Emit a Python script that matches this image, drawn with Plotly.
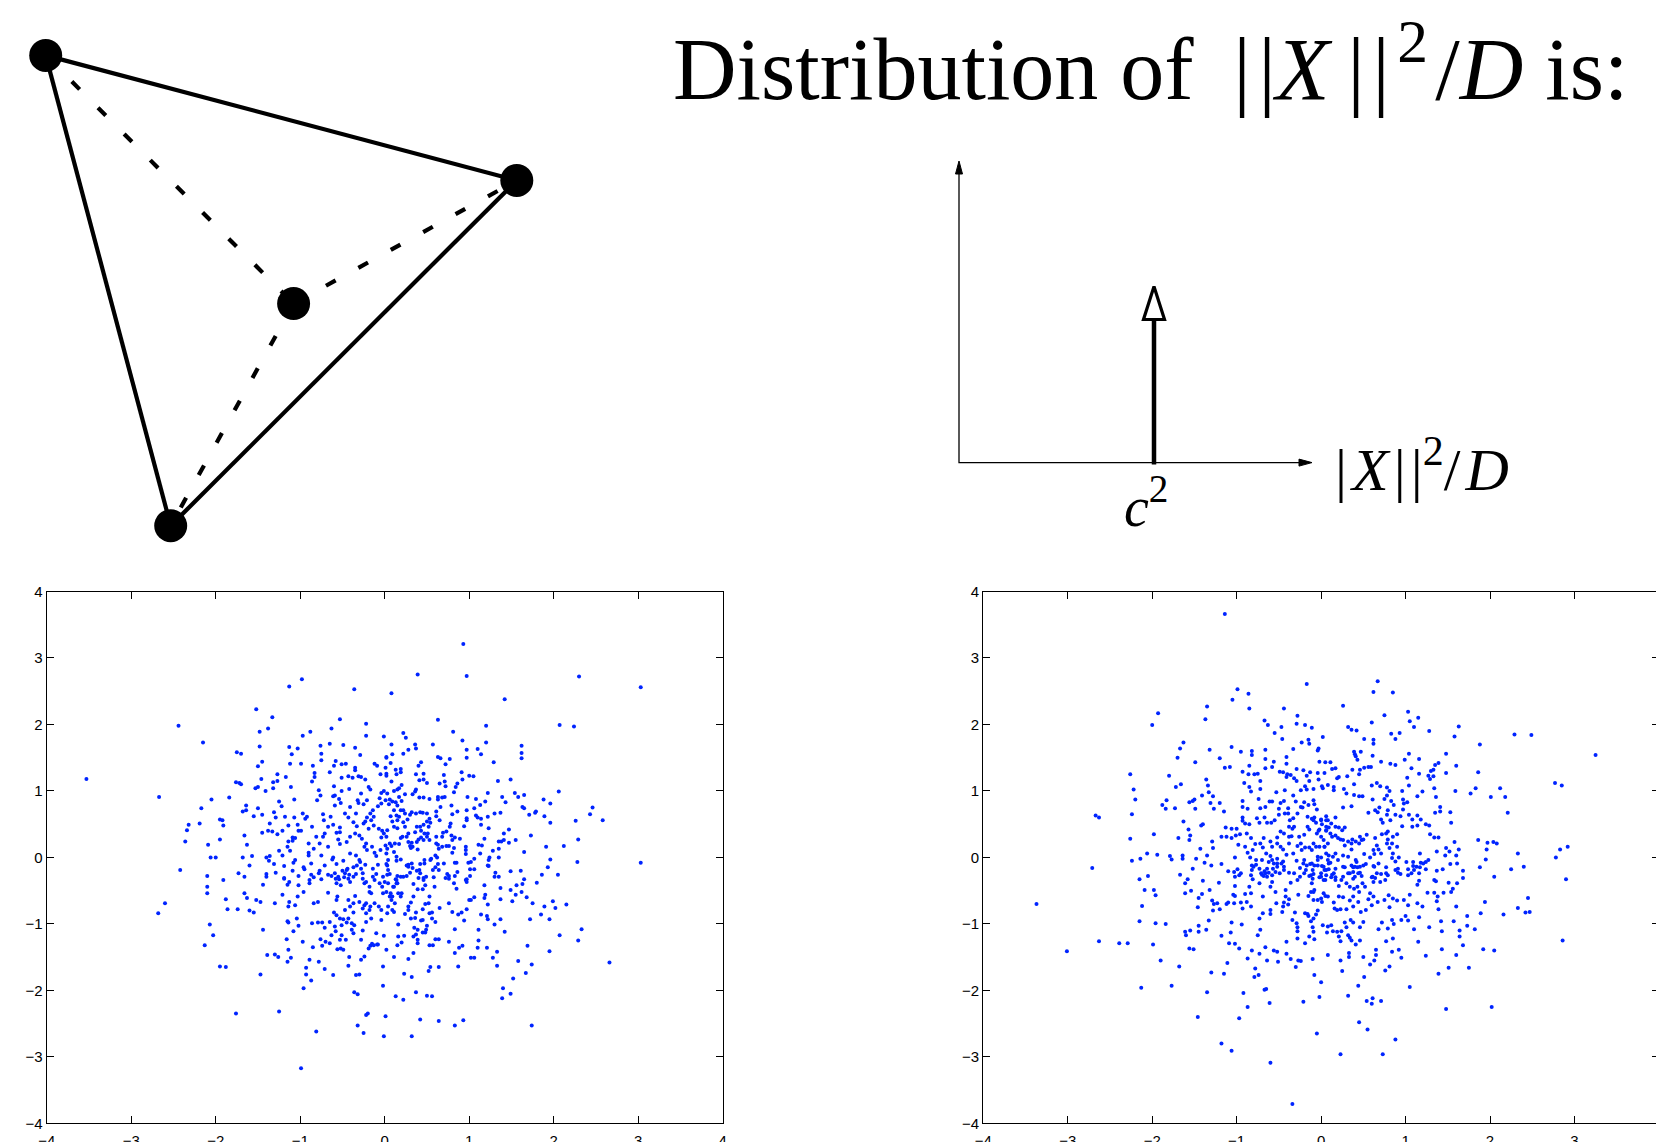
import plotly.graph_objects as go

W, H = 1656, 1142

# ---------------- scatter data ----------------
left_nw = [(-3.53,1.18),(-2.67,0.91),(-2.44,1.98),(-2.15,1.73),(-2.17,0.74),(-2.19,0.51),(-2.32,0.49),(-2.34,0.41),(-2.36,0.24),(-2.42,-0.19),(-2.10,-0.28),(-2.09,0.19),(-2.06,0.0),(-2.00,0.0),(-2.05,0.87),(-1.84,0.90),(-1.95,0.57),(-1.92,0.56),(-1.91,0.48),(-1.95,0.27),(-1.75,1.58),(-1.70,1.56),(-1.76,1.13),(-1.72,1.12),(-1.70,1.10),(-1.68,0.69),(-1.64,0.71),(-1.64,0.78),(-1.66,0.33),(-1.63,0.19),(-1.73,-0.24),(-1.66,-0.29),(-1.68,0.0),(-1.57,0.02),(-1.60,-0.12),(-1.52,2.23),(-1.33,2.11),(-1.38,1.94),(-1.48,1.89),(-1.48,1.67),(-1.45,1.44),(-1.50,1.37),(-1.46,1.18),(-1.50,1.06),(-1.53,1.04),(-1.41,1.00),(-1.32,1.13),(-1.27,1.15),(-1.27,1.25),(-1.32,1.04),(-1.55,0.62),(-1.50,0.74),(-1.45,0.64),(-1.36,0.51),(-1.38,0.40),(-1.33,0.39),(-1.45,0.37),(-1.31,0.68),(-1.29,0.60),(-1.22,0.77),(-1.25,0.84),(-1.21,0.40),(-1.27,0.35),(-1.17,1.21),(-1.13,2.57),(-0.98,2.68),(-0.88,1.89),(-0.97,1.83),(-1.13,1.66),(-1.03,1.64),(-1.10,1.55),(-1.12,1.41),(-0.99,1.41),(-1.11,1.06),(-1.07,0.87),(-0.85,1.38),(-0.83,1.27),(-0.83,1.21),(-0.86,1.14),(-0.78,1.01),(-0.80,0.86),(-0.76,0.93),(-0.97,0.66),(-0.94,0.58),(-0.92,0.61),(-0.86,0.46),(-1.02,0.40),(-0.99,0.40),(-1.09,0.30),(-1.06,0.29),(-1.09,0.25),(-1.14,0.24),(-1.12,0.10),(-1.15,0.16),(-1.40,0.0),(-1.36,0.02),(-1.37,-0.05),(-1.31,-0.10),(-1.19,-0.13),(-1.09,-0.20),(-1.40,-0.25),(-1.40,-0.29),(-1.19,-0.31),(-1.02,-0.28),(-1.29,-0.23),(-0.77,0.21),(-0.90,0.21),(-0.90,0.07),(-0.90,0.03),(-0.96,-0.15),(-0.95,-0.18),(-0.87,-0.26),(-0.84,-0.30),(-0.78,-0.24),(-0.76,1.68),(-0.65,1.71),(-0.53,2.08),(-0.63,1.94),(-0.49,1.69),(-0.58,1.45),(-0.51,1.40),(-0.46,1.41),(-0.75,1.56),(-0.75,1.46),(-0.65,1.28),(-0.60,1.38),(-0.60,1.07),(-0.59,0.93),(-0.61,0.92),(-0.59,0.78),(-0.52,0.82),(-0.54,0.88),(-0.42,1.03),(-0.43,1.22),(-0.38,1.20),(-0.35,1.35),(-0.35,1.31),(-0.31,1.22),(-0.36,2.53),(-0.35,1.65),(-0.29,1.54),(-0.22,1.83),(-0.22,2.01),(-0.28,1.21),(-0.23,1.17),(-0.19,1.06),(-0.17,1.02),(-0.12,1.41),(-0.09,1.38),(-0.05,1.25),(-0.01,1.82),(0.02,1.51),(0.01,1.35),(0.02,1.26),(0.08,2.47),(0.08,1.70),(0.07,1.42),(-0.04,0.97),(-0.01,1.00),(0.01,0.86),(0.03,0.96),(-0.06,0.89),(-0.04,0.81),(-0.08,0.77),(-0.28,0.96),(-0.32,0.86),(-0.31,0.82),(-0.25,0.80),(-0.21,0.86),(-0.17,0.66),(-0.14,0.71),(-0.16,0.56),(-0.13,0.61),(-0.21,0.60),(-0.23,0.54),(-0.25,0.51),(-0.13,0.48),(-0.19,0.43),(-0.07,0.43),(-0.03,0.40),(-0.01,0.36),(-0.04,0.30),(-0.51,1.20),(-0.51,1.00),(-0.47,0.66),(-0.43,0.60),(-0.41,0.76),(-0.34,0.66),(-0.37,0.53),(-0.33,0.47),(-0.61,0.49),(-0.67,0.46),(-0.64,0.61),(-0.72,0.56),(-0.73,0.65),(-0.71,0.36),(-0.57,0.37),(-0.53,0.45),(-0.53,0.38),(-0.55,0.27),(-0.53,0.20),(-0.45,0.23),(-0.41,0.31),(-0.35,0.36),(-0.30,0.33),(-0.27,0.28),(-0.22,0.21),(-0.24,0.16),(-0.21,0.11),(-0.15,0.16),(-0.12,0.07),(-0.10,0.02),(-0.05,0.11),(0.02,0.06),(0.03,0.13),(0.08,0.17),(0.11,0.08),(0.14,0.01),(-0.61,0.0),(-0.62,-0.03),(-0.57,-0.10),(-0.49,-0.05),(-0.41,0.06),(-0.34,0.03),(-0.29,-0.07),(-0.23,-0.11),(-0.37,-0.15),(-0.44,-0.17),(-0.50,-0.20),(-0.55,-0.29),(-0.48,-0.30),(-0.42,-0.26),(-0.34,-0.25),(-0.26,-0.24),(-0.14,-0.17),(-0.10,-0.25),(-0.02,-0.29),(0.06,-0.25),(-0.77,-0.20),(-0.71,-0.12),(-0.67,-0.26),(-0.75,0.03),(-0.84,0.13),(-0.81,0.31),(-0.73,0.31),(-0.67,0.16),(-1.08,-0.08),(-1.06,-0.04),(-1.21,0.03),(-1.25,0.10),(-1.03,0.49),(-1.07,0.60),(-1.18,0.61),(-1.14,0.48)]

left_ne = [(0.93,3.21),(0.39,2.75),(0.97,2.73),(2.30,2.72),(3.03,2.56),(1.42,2.38),(0.63,2.07),(1.20,1.98),(2.07,1.99),(2.24,1.97),(0.22,1.87),(0.25,1.80),(0.81,1.89),(0.36,1.70),(0.37,1.64),(0.57,1.70),(0.92,1.76),(1.20,1.73),(0.97,1.62),(0.97,1.50),(1.10,1.63),(1.14,1.55),(1.62,1.68),(1.62,1.57),(1.62,1.49),(1.29,1.43),(0.63,1.51),(0.66,1.49),(0.77,1.48),(0.72,1.40),(0.43,1.43),(0.40,1.38),(0.09,1.55),(0.02,1.50),(0.22,1.56),(0.28,1.62),(0.13,1.32),(0.19,1.33),(0.14,1.25),(0.19,1.28),(0.02,1.23),(0.91,1.28),(0.92,1.17),(1.00,1.23),(1.05,1.22),(1.34,1.15),(1.49,1.17),(0.37,1.25),(0.46,1.26),(0.46,1.17),(0.41,1.16),(0.50,1.12),(0.70,1.24),(0.71,1.14),(0.72,1.07),(0.65,1.11),(0.86,1.11),(0.84,1.06),(0.08,1.14),(0.20,1.09),(0.11,1.00),(0.15,1.02),(0.17,1.04),(0.37,1.02),(0.36,0.99),(0.33,0.95),(0.24,0.95),(0.41,0.90),(0.46,0.90),(0.53,0.88),(0.63,0.91),(0.63,0.87),(0.68,0.90),(0.71,0.91),(0.82,0.98),(0.98,0.91),(1.08,0.88),(1.22,0.97),(1.39,0.91),(1.43,0.83),(1.54,0.97),(1.58,0.91),(1.65,0.94),(1.88,0.87),(1.96,0.81),(2.06,0.99),(1.63,0.76),(1.65,0.74),(1.71,0.64),(1.78,0.67),(1.79,0.69),(1.89,0.62),(1.96,0.52),(2.26,0.55),(2.29,0.27),(2.46,0.75),(2.43,0.65),(2.58,0.56),(2.12,0.17),(2.28,-0.07),(3.03,-0.08),(1.73,0.33),(1.65,0.08),(1.91,0.16),(1.96,-0.03),(1.93,-0.15),(1.86,-0.26),(2.05,-0.26),(1.61,-0.20),(1.65,-0.33),(1.49,-0.21),(1.55,0.26),(1.47,0.42),(1.41,0.36),(1.37,0.67),(1.30,0.66),(1.22,0.61),(1.19,0.84),(1.13,0.79),(1.14,0.58),(1.14,0.49),(1.23,0.44),(1.18,0.28),(1.08,0.63),(1.10,0.60),(1.06,0.74),(0.97,0.71),(0.97,0.59),(0.97,0.56),(0.94,0.47),(0.86,0.69),(0.80,0.65),(0.79,0.78),(1.28,0.10),(1.35,0.13),(1.35,0.24),(1.38,0.24),(1.41,0.26),(1.47,0.22),(1.35,0.0),(1.24,0.0),(1.23,-0.04),(1.23,-0.13),(1.13,0.06),(1.11,0.19),(1.15,0.18),(1.06,-0.02),(1.02,-0.07),(0.99,-0.08),(1.01,-0.18),(1.06,-0.18),(1.01,-0.28),(0.97,-0.33),(1.31,-0.23),(1.30,-0.29),(1.35,-0.29),(0.96,0.16),(0.96,0.11),(0.96,0.05),(0.83,-0.08),(0.85,-0.08),(0.80,0.07),(0.82,0.14),(0.73,0.17),(0.76,0.17),(0.80,0.26),(0.79,0.33),(0.83,0.30),(0.89,0.28),(0.73,0.39),(0.69,0.37),(0.68,0.31),(0.61,0.31),(0.77,0.46),(0.78,0.51),(0.68,0.16),(0.64,0.13),(0.63,0.19),(0.61,0.21),(0.53,0.26),(0.50,0.31),(0.46,0.26),(0.43,0.30),(0.40,0.27),(0.38,0.23),(0.39,0.12),(0.31,0.14),(0.30,0.17),(0.33,0.16),(0.32,0.22),(0.28,0.23),(0.19,0.29),(0.21,0.31),(0.17,0.20),(0.12,0.21),(0.06,0.21),(0.01,0.18),(0.14,-0.05),(0.19,-0.03),(0.04,-0.04),(0.02,-0.10),(0.04,-0.19),(0.15,-0.28),(0.13,-0.33),(0.26,-0.28),(0.30,-0.23),(0.28,-0.11),(0.32,-0.09),(0.33,-0.16),(0.38,-0.20),(0.42,-0.10),(0.47,-0.04),(0.47,-0.09),(0.54,-0.04),(0.55,-0.02),(0.60,0.03),(0.62,0.0),(0.63,-0.10),(0.60,-0.15),(0.64,-0.19),(0.70,-0.09),(0.74,-0.25),(0.76,-0.28),(0.72,-0.31),(0.58,-0.30),(0.40,-0.31),(0.46,-0.31),(0.42,0.68),(0.45,0.67),(0.50,0.66),(0.53,0.58),(0.61,0.62),(0.65,0.56),(0.66,0.76),(0.61,0.69),(0.54,0.52),(0.50,0.54),(0.52,0.46),(0.46,0.49),(0.42,0.46),(0.38,0.46),(0.36,0.38),(0.43,0.40),(0.47,0.36),(0.51,0.36),(0.22,0.71),(0.24,0.66),(0.17,0.61),(0.14,0.63),(0.15,0.56),(0.07,0.62),(0.09,0.54),(0.11,0.46),(0.15,0.44),(0.03,0.41),(0.02,0.31),(0.28,0.36),(0.26,0.31),(0.24,0.46),(0.22,0.53),(0.27,0.57),(0.30,0.64),(0.32,0.68),(0.19,0.71),(0.11,0.71),(0.09,0.84),(0.13,0.83),(0.15,0.78),(0.05,0.80),(0.06,0.87),(0.20,0.85),(0.17,0.91),(0.37,0.66)]

left_sw = [(-2.68,-0.84),(-2.60,-0.69),(-2.10,-0.54),(-2.10,-0.44),(-2.07,-1.01),(-2.03,-1.17),(-2.13,-1.32),(-1.91,-0.34),(-1.88,-0.63),(-1.86,-0.78),(-1.74,-0.78),(-1.66,-0.54),(-1.63,-0.61),(-1.60,-0.80),(-1.55,-0.83),(-1.52,-0.64),(-1.47,-0.67),(-1.44,-0.41),(-1.95,-1.64),(-1.88,-1.65),(-1.76,-2.35),(-1.47,-1.76),(-1.44,-1.09),(-1.39,-1.47),(-1.30,-0.69),(-1.30,-1.46),(-1.26,-1.50),(-1.25,-2.32),(-1.21,-0.56),(-1.19,-0.32),(-1.15,-0.41),(-1.13,-0.67),(-1.14,-0.74),(-1.15,-0.96),(-1.14,-0.98),(-1.16,-1.23),(-1.14,-1.39),(-1.15,-1.57),(-1.11,-1.51),(-1.08,-1.11),(-1.06,-0.72),(-1.04,-0.92),(-1.03,-0.59),(-1.02,-0.42),(-1.02,-1.03),(-0.99,-3.17),(-0.97,-1.27),(-0.96,-0.52),(-0.96,-1.97),(-0.93,-1.66),(-0.93,-1.76),(-0.89,-1.54),(-0.87,-1.85),(-0.86,-0.99),(-0.85,-1.35),(-0.84,-0.69),(-0.81,-2.62),(-0.79,-0.98),(-0.79,-0.67),(-0.78,-1.57),(-0.76,-1.23),(-0.74,-1.33),(-0.74,-0.98),(-0.71,-1.68),(-0.71,-1.06),(-0.70,-1.27),(-0.67,-0.53),(-0.65,-1.29),(-0.65,-0.97),(-0.63,-1.17),(-0.61,-1.77),(-0.60,-0.83),(-0.58,-1.11),(-0.57,-0.64),(-0.56,-1.38),(-0.56,-0.59),(-0.53,-1.24),(-0.52,-1.37),(-0.51,-1.02),(-0.51,-1.17),(-0.49,-1.39),(-0.49,-0.93),(-0.47,-0.79),(-0.46,-1.24),(-0.45,-0.98),(-0.43,-0.92),(-0.43,-1.63),(-0.42,-1.50),(-0.39,-1.09),(-0.37,-0.83),(-0.37,-1.14),(-0.36,-2.03),(-0.32,-2.06),(-0.35,-0.58),(-0.34,-1.77),(-0.30,-1.76),(-0.32,-2.53),(-0.28,-1.54),(-0.28,-1.24),(-0.26,-1.10),(-0.25,-2.64),(-0.24,-1.49),(-0.24,-0.72),(-0.22,-0.84),(-0.22,-2.37),(-0.20,-2.35),(-0.19,-1.37),(-0.17,-1.33),(-0.17,-0.74),(-0.16,-0.92),(-0.15,-1.30),(-0.13,-1.32),(-0.10,-1.14),(-0.09,-1.31),(-0.08,-1.31),(-0.04,-0.94),(-0.02,-1.64),(-0.02,-1.93),(-0.01,-2.69),(-0.01,-1.18),(0.01,-2.39),(0.02,-1.39),(0.03,-0.84),(0.04,-0.74),(0.11,-1.50),(0.13,-2.09),(0.15,-1.32),(0.16,-1.19),(-1.13,-0.37),(-0.89,-0.34),(-0.89,-0.39),(-0.87,-0.09),(-0.75,-0.33),(-0.63,-0.28),(-0.59,-0.24),(-0.58,-0.32),(-0.57,-0.39),(-0.54,-0.33),(-0.52,-0.42),(-0.47,-0.24),(-0.45,-0.19),(-0.43,-0.32),(-0.41,-0.37),(-0.37,-0.29),(-0.33,-0.12),(-0.30,-0.04),(-0.28,-0.17),(-0.26,-0.32),(-0.24,-0.39),(-0.22,-0.37),(-0.18,-0.44),(-0.18,-0.52),(-0.16,-0.54),(-0.14,-0.29),(-0.12,-0.34),(-0.08,-0.11),(-0.06,-0.39),(-0.02,-0.54),(0.02,-0.52),(0.06,-0.59),(0.08,-0.64),(0.10,-0.44),(0.14,-0.39),(0.16,-0.54),(-0.37,-0.69),(-0.41,-0.74),(-0.43,-0.64),(-0.30,-0.67),(-0.26,-0.77),(-0.22,-0.69),(-0.18,-0.79),(-0.12,-0.69),(-0.07,-0.74),(0.09,-0.79),(0.12,-0.69),(-0.57,-0.87),(-0.53,-0.92),(-0.39,-0.99),(-0.36,-1.02),(-0.59,-1.04),(-0.22,-0.97)]

left_se = [(2.66,-1.58),(2.33,-1.08),(2.29,-1.25),(2.07,-1.17),(2.15,-0.71),(1.99,-0.66),(2.02,-0.76),(1.95,-0.93),(1.95,-1.41),(1.89,-0.74),(1.85,-0.86),(1.80,-0.38),(1.75,-0.69),(1.72,-0.93),(1.69,-1.33),(1.74,-1.61),(1.67,-1.74),(1.74,-2.53),(1.58,-1.56),(1.52,-1.82),(1.49,-2.05),(1.40,-1.97),(1.39,-2.12),(1.42,-1.12),(1.33,-1.42),(1.33,-1.63),(1.28,-1.51),(1.30,-1.01),(1.37,-0.93),(1.11,-1.25),(1.11,-1.09),(1.21,-1.36),(1.10,-1.36),(1.02,-1.51),(1.06,-1.51),(0.93,-2.45),(0.83,-2.53),(0.64,-2.46),(0.42,-2.44),(0.32,-2.69),(0.56,-2.09),(0.50,-2.08),(0.22,-2.14),(0.37,-2.03),(0.23,-1.75),(0.32,-1.80),(0.52,-1.71),(0.54,-1.65),(0.64,-1.65),(0.28,-1.53),(0.34,-1.44),(0.83,-1.44),(0.88,-1.36),(0.92,-1.33),(0.87,-1.64),(0.76,-1.27),(0.83,-1.08),(0.20,-1.28),(0.23,-1.18),(0.53,-1.32),(0.57,-1.32),(0.60,-1.23),(0.64,-1.23),(0.39,-1.29),(0.39,-1.24),(0.34,-1.19),(0.37,-1.16),(0.39,-1.09),(0.35,-1.06),(0.45,-1.13),(0.48,-1.13),(0.50,-1.03),(0.49,-1.09),(0.45,-0.94),(0.43,-0.95),(0.36,-0.91),(0.37,-0.83),(0.28,-0.74),(0.28,-0.79),(0.31,-0.92),(0.24,-0.85),(0.16,-1.01),(0.11,-0.82),(-0.04,-0.79),(0.53,-0.84),(0.56,-0.83),(0.60,-0.97),(0.56,-0.92),(0.65,-0.76),(0.76,-0.69),(0.80,-0.82),(0.87,-0.86),(0.91,-0.83),(0.94,-0.95),(0.97,-0.78),(1.00,-0.64),(1.02,-0.64),(1.06,-0.60),(1.14,-0.86),(1.21,-0.88),(1.22,-0.93),(1.18,-0.61),(1.19,-0.56),(1.22,-0.71),(1.18,-0.42),(1.22,-0.12),(1.37,-0.46),(1.37,-0.63),(1.49,-0.49),(1.51,-0.66),(1.55,-0.56),(1.56,-0.42),(1.62,-0.52),(1.63,-0.40),(1.68,-0.60),(0.96,-0.34),(0.97,-0.37),(0.83,-0.28),(0.86,-0.22),(0.82,-0.39),(0.85,-0.47),(0.76,-0.32),(0.57,-0.19),(0.59,-0.44),(0.48,-0.42),(0.49,-0.29),(0.46,-0.34),(0.42,-0.24),(0.41,-0.19),(0.39,-0.48),(0.45,-0.48),(0.53,-0.59),(0.52,-0.69),(0.48,-0.70),(0.45,-0.78),(0.34,-0.40),(0.34,-0.59),(0.31,-0.68),(0.28,-0.14),(0.26,-0.12),(0.22,-0.29),(0.19,-0.29),(0.15,-0.39),(0.14,-0.34),(0.11,-0.44),(0.19,-0.59),(0.20,-0.54),(0.09,-0.59),(0.07,-0.54),(-0.03,-0.44),(0.0,-0.37),(0.04,-0.39),(0.03,-0.26),(0.03,-0.12)]

right_nw = [(-1.14,3.66),(-0.99,2.53),(-0.86,2.46),(-0.85,2.24),(-1.05,2.37),(-1.35,2.27),(-1.37,2.08),(-1.93,2.17),(-2.00,1.99),(-0.17,2.61),(-0.44,2.24),(-0.28,2.13),(-0.67,2.06),(-0.63,1.99),(-0.47,1.96),(-0.55,1.87),(-0.46,1.78),(-0.29,2.01),(-0.19,1.99),(-0.11,1.95),(0.02,1.81),(-0.23,1.73),(-0.15,1.77),(-0.14,1.71),(-0.33,1.63),(-0.03,1.64),(-0.04,1.61),(-1.63,1.73),(-1.67,1.64),(-1.70,1.50),(-1.49,1.43),(-1.32,1.62),(-1.06,1.66),(-1.20,1.49),(-1.14,1.35),(-1.08,1.36),(-0.95,1.59),(-0.82,1.60),(-0.82,1.54),(-0.66,1.62),(-0.66,1.48),(-1.80,1.23),(-2.26,1.25),(-2.22,1.02),(-2.20,0.87),(-2.24,0.65),(-2.26,0.28),(-2.24,-0.05),(-2.14,-0.02),(-2.06,0.06),(-1.94,0.04),(-1.98,0.35),(-2.67,0.63),(-2.63,0.60),(-2.71,-0.16),(-1.88,0.79),(-1.84,0.73),(-1.83,0.86),(-1.72,1.06),(-1.66,1.10),(-1.73,0.74),(-1.69,0.29),(-1.63,0.54),(-1.57,0.42),(-1.56,0.26),(-1.55,0.33),(-1.56,0.83),(-1.52,0.85),(-1.50,0.87),(-1.49,0.73),(-1.79,0.02),(-1.77,-0.03),(-1.64,0.03),(-1.64,-0.02),(-1.67,-0.26),(-1.58,-0.33),(-1.52,-0.17),(-1.48,-0.02),(-1.43,0.13),(-1.42,0.48),(-1.40,0.50),(-1.41,0.93),(-1.36,1.17),(-1.34,1.08),(-1.33,0.98),(-1.31,0.82),(-1.28,0.92),(-1.27,0.73),(-1.29,0.24),(-1.28,0.14),(-1.30,-0.12),(-1.38,-0.08),(-1.35,0.03),(-1.20,0.82),(-1.15,0.69),(-1.18,0.31),(-1.12,0.31),(-1.13,0.45),(-1.18,-0.10),(-1.10,-0.21),(-1.06,0.29),(-1.01,0.33),(-1.06,0.43),(-1.00,0.43),(-0.98,0.19),(-1.02,0.0),(-0.99,-0.18),(-1.03,-0.22),(-0.95,-0.24),(-0.97,-0.27),(-0.93,0.76),(-0.93,0.85),(-0.91,1.12),(-0.85,1.06),(-0.93,1.29),(-0.85,1.38),(-0.86,1.25),(-0.83,0.99),(-0.93,0.60),(-0.93,0.55),(-0.90,0.51),(-0.87,0.73),(-0.85,0.50),(-0.88,0.36),(-0.96,0.35),(-0.90,0.16),(-0.87,0.07),(-0.84,0.0),(-0.82,-0.12),(-0.80,-0.14),(-0.82,-0.19),(-0.72,0.21),(-0.69,0.15),(-0.70,-0.04),(-0.67,-0.21),(-0.71,-0.24),(-0.70,-0.26),(-0.66,-0.24),(-0.79,1.25),(-0.75,1.26),(-0.72,1.15),(-0.72,1.03),(-0.74,0.88),(-0.72,0.74),(-0.76,0.59),(-0.73,0.52),(-0.66,1.34),(-0.58,1.36),(-0.49,1.29),(-0.45,1.28),(-0.41,1.21),(-0.40,1.25),(-0.36,1.24),(-0.32,1.19),(-0.29,1.15),(-0.17,1.23),(-0.14,1.15),(-0.03,1.17),(0.02,1.04),(-0.09,1.03),(-0.17,1.02),(-0.24,1.01),(-0.43,1.01),(-0.53,0.98),(-0.58,0.84),(-0.66,0.76),(-0.67,0.60),(-0.64,0.52),(-0.59,0.52),(-0.55,0.56),(-0.50,0.64),(-0.50,0.73),(-0.48,0.82),(-0.44,0.85),(-0.39,0.74),(-0.39,0.66),(-0.37,0.56),(-0.33,0.59),(-0.38,0.46),(-0.34,0.43),(-0.32,0.46),(-0.24,0.76),(-0.22,0.75),(-0.20,0.83),(-0.15,0.79),(-0.09,0.86),(-0.08,0.80),(-0.05,0.72),(-0.16,0.61),(-0.11,0.58),(-0.09,0.56),(-0.16,0.46),(-0.14,0.42),(0.0,0.56),(0.01,0.50),(0.06,0.56),(0.06,0.46),(0.06,0.41),(-0.02,0.42),(-0.05,0.36),(-0.20,0.34),(-0.26,0.31),(-0.35,0.32),(-0.38,0.31),(-0.44,0.36),(-0.48,0.39),(-0.52,0.30),(-0.52,0.21),(-0.48,0.16),(-0.45,0.12),(-0.38,0.21),(-0.33,0.06),(-0.28,0.17),(-0.24,0.21),(-0.23,0.11),(-0.19,0.15),(-0.14,0.15),(-0.11,0.11),(-0.09,0.21),(-0.06,0.16),(-0.04,0.01),(0.0,0.0),(-0.08,-0.12),(-0.13,-0.10),(-0.17,-0.12),(-0.21,-0.09),(-0.25,-0.16),(-0.29,-0.05),(-0.32,-0.24),(-0.38,-0.23),(-0.44,-0.19),(-0.45,-0.06),(-0.49,-0.24),(-0.54,-0.22),(-0.57,-0.17),(-0.58,-0.27),(-0.62,-0.07),(-0.64,-0.17),(-0.68,-0.28),(-0.73,-0.17),(-0.77,-0.11),(-0.77,-0.04),(-0.65,0.06),(-0.60,0.02),(-0.58,-0.04),(-0.52,-0.02),(-0.52,-0.09),(-0.41,0.04),(-0.68,0.29),(-0.60,0.24),(-0.58,0.16),(-0.78,0.20),(-0.83,0.29),(-0.81,0.11),(0.04,0.16),(0.06,0.06),(0.08,0.21),(0.09,-0.09),(0.04,-0.19),(0.0,-0.24),(-0.02,-0.30),(-0.12,-0.27),(0.08,-0.04),(-0.28,0.66),(-0.30,0.84),(-0.33,0.93),(-0.19,1.07),(-0.04,1.27),(-0.02,1.44),(-0.13,1.28),(-0.21,1.31),(-0.29,1.33),(-0.41,1.41),(-0.56,1.44),(-0.41,1.51),(-0.61,0.84),(-0.43,0.66)]

right_ne = [(0.67,2.65),(0.62,2.49),(0.85,2.48),(0.26,2.28),(0.75,2.14),(1.03,2.19),(1.15,2.10),(1.05,2.05),(1.10,1.96),(0.60,2.03),(1.63,1.97),(1.58,1.82),(1.28,1.90),(0.83,1.86),(0.93,1.87),(0.88,1.78),(0.62,1.77),(0.62,1.71),(0.51,1.78),(0.32,1.96),(0.36,1.92),(0.42,1.91),(1.88,1.70),(2.29,1.85),(2.49,1.84),(3.25,1.54),(1.48,1.56),(1.04,1.56),(0.99,1.47),(1.16,1.48),(0.71,1.44),(0.82,1.41),(0.88,1.39),(0.61,1.53),(0.47,1.59),(0.39,1.59),(0.40,1.55),(0.41,1.52),(0.43,1.47),(0.05,1.43),(0.11,1.43),(0.04,1.27),(0.13,1.33),(0.17,1.34),(0.37,1.32),(0.46,1.32),(0.45,1.25),(0.51,1.35),(0.56,1.36),(0.59,1.36),(1.07,1.34),(1.16,1.26),(1.02,1.20),(1.30,1.30),(1.33,1.32),(1.39,1.42),(1.35,1.39),(1.27,1.23),(1.29,1.18),(1.33,1.22),(1.48,1.27),(1.60,1.38),(1.86,1.28),(0.19,1.19),(0.21,1.21),(0.31,1.22),(0.39,1.10),(0.60,1.08),(0.66,1.12),(0.70,1.07),(0.78,1.05),(0.81,1.00),(0.15,1.06),(0.15,1.01),(0.01,1.07),(0.08,1.09),(0.27,1.03),(0.30,0.96),(0.39,0.94),(0.36,0.77),(0.45,0.92),(0.49,0.92),(0.61,0.87),(0.56,0.67),(0.67,0.68),(0.64,0.71),(0.69,0.75),(0.75,0.88),(0.78,0.93),(0.83,0.85),(0.96,1.00),(1.04,1.08),(1.14,0.92),(1.20,0.99),(1.34,1.04),(1.36,0.91),(1.59,1.00),(1.77,0.96),(1.83,1.04),(2.12,1.04),(2.01,0.91),(2.18,0.91),(2.77,1.12),(2.85,1.08),(2.21,0.67),(0.97,0.87),(0.98,0.81),(1.02,0.83),(0.97,0.72),(0.86,0.79),(0.79,0.71),(0.78,0.64),(0.71,0.57),(0.73,0.52),(0.82,0.56),(0.88,0.64),(0.94,0.62),(1.04,0.64),(1.08,0.57),(1.14,0.63),(1.18,0.57),(1.24,0.50),(1.28,0.48),(1.14,0.48),(0.96,0.47),(1.08,0.46),(1.41,0.76),(1.41,0.69),(1.35,0.67),(1.53,0.68),(1.54,0.52),(1.29,0.35),(1.34,0.30),(1.39,0.30),(1.58,0.23),(1.86,0.26),(1.97,0.22),(2.04,0.23),(2.08,0.21),(1.96,0.12),(1.95,-0.03),(1.88,-0.15),(2.05,-0.29),(2.25,-0.18),(2.33,0.06),(2.40,-0.14),(2.78,0.0),(2.83,0.12),(2.92,0.16),(2.90,-0.33),(1.63,0.12),(1.60,0.03),(1.52,0.09),(1.47,0.03),(1.48,0.14),(1.37,0.09),(1.53,-0.10),(1.68,-0.20),(1.68,-0.31),(1.44,-0.18),(1.37,-0.20),(1.34,-0.34),(1.24,-0.07),(1.18,-0.08),(1.17,0.06),(1.09,-0.13),(1.03,-0.18),(1.09,-0.07),(1.03,-0.27),(1.17,-0.15),(1.16,-0.24),(0.91,-0.17),(0.92,0.0),(0.88,-0.06),(0.85,0.06),(0.84,-0.01),(0.90,0.16),(0.81,0.14),(0.78,0.21),(0.84,0.21),(0.85,0.31),(0.90,0.35),(0.79,0.39),(0.77,0.36),(0.79,0.27),(0.72,0.35),(0.64,0.29),(0.66,0.18),(0.62,0.11),(0.63,0.05),(0.68,0.12),(0.71,0.06),(0.68,-0.09),(0.58,0.0),(0.62,-0.13),(0.61,-0.29),(0.71,-0.25),(0.77,-0.15),(0.79,-0.27),(0.64,-0.31),(0.54,0.34),(0.46,0.31),(0.48,0.26),(0.50,0.27),(0.45,0.21),(0.41,0.24),(0.36,0.21),(0.37,0.27),(0.32,0.24),(0.28,0.18),(0.26,0.26),(0.23,0.27),(0.20,0.29),(0.17,0.33),(0.13,0.31),(0.11,0.36),(0.09,0.45),(0.12,0.51),(0.17,0.46),(0.21,0.45),(0.28,0.45),(0.25,0.41),(0.17,0.60),(0.26,0.75),(0.06,0.62),(0.08,0.56),(0.0,0.57),(-0.06,0.52),(0.06,0.40),(-0.03,0.40),(-0.08,0.60),(0.0,0.31),(0.04,0.16),(-0.02,0.16),(0.09,0.03),(0.14,0.01),(0.17,0.06),(0.26,0.03),(0.32,0.01),(0.20,-0.04),(0.28,-0.15),(0.38,-0.15),(0.43,-0.15),(0.38,-0.22),(0.46,-0.23),(0.42,-0.07),(0.32,-0.24),(0.17,-0.30),(0.15,-0.24),(0.11,-0.08),(0.06,-0.19),(0.01,-0.13),(-0.04,-0.04),(-0.10,-0.19),(0.12,-0.30),(0.53,-0.10),(0.51,0.05),(0.41,-0.04),(0.36,0.12),(0.03,0.26)]

right_sw = [(-3.37,-0.70),(-3.01,-1.41),(-2.63,-1.26),(-2.39,-1.29),(-2.29,-1.29),(-2.15,-0.33),(-2.12,-0.73),(-2.09,-0.49),(-2.05,-0.28),(-2.15,-0.96),(-2.13,-1.96),(-1.98,-0.49),(-1.96,-0.57),(-1.96,-0.99),(-1.99,-1.31),(-1.84,-1.00),(-1.90,-1.55),(-1.77,-1.93),(-1.68,-1.64),(-1.61,-0.39),(-1.61,-0.54),(-1.61,-1.12),(-1.60,-1.17),(-1.54,-0.50),(-1.56,-1.37),(-1.51,-1.38),(-1.55,-1.10),(-1.46,-2.40),(-1.46,-0.75),(-1.45,-1.03),(-1.45,-1.12),(-1.45,-0.61),(-1.40,-0.35),(-1.41,-0.55),(-1.36,-1.09),(-1.33,-0.95),(-1.35,-2.03),(-1.32,-0.49),(-1.30,-1.73),(-1.29,-0.65),(-1.28,-0.80),(-1.27,-0.70),(-1.21,-0.38),(-1.23,-0.69),(-1.20,-0.78),(-1.18,-1.18),(-1.18,-2.80),(-1.15,-1.75),(-1.12,-0.70),(-1.11,-1.59),(-1.10,-0.68),(-1.09,-1.29),(-1.06,-2.91),(-1.07,-1.13),(-1.06,-0.98),(-1.04,-0.56),(-1.03,-0.69),(-1.02,-0.29),(-1.02,-0.43),(-1.02,-1.30),(-0.97,-1.37),(-0.97,-2.42),(-1.02,-0.58),(-0.95,-0.68),(-0.94,-1.01),(-0.92,-2.04),(-0.93,-0.77),(-0.90,-0.55),(-0.88,-0.67),(-0.87,-2.25),(-0.87,-1.52),(-0.85,-0.44),(-0.83,-0.74),(-0.83,-0.54),(-0.83,-0.27),(-0.82,-1.40),(-0.81,-0.33),(-0.79,-1.80),(-0.78,-1.67),(-0.75,-1.17),(-0.74,-1.77),(-0.73,-0.39),(-0.72,-1.09),(-0.73,-1.45),(-0.73,-0.92),(-0.69,-0.84),(-0.69,-0.59),(-0.67,-1.99),(-0.65,-1.98),(-0.66,-1.35),(-0.64,-1.55),(-0.61,-2.19),(-0.60,-0.79),(-0.60,-0.85),(-0.60,-0.44),(-0.60,-3.09),(-0.62,-0.23),(-0.56,-1.40),(-0.54,-0.52),(-0.53,-0.69),(-0.52,-1.42),(-0.51,-1.57),(-0.46,-0.82),(-0.45,-0.74),(-0.44,-0.68),(-0.42,-0.49),(-0.42,-0.59),(-0.41,-1.27),(-0.41,-1.45),(-0.39,-0.71),(-0.38,-0.63),(-0.36,-0.38),(-0.34,-3.71),(-0.34,-0.94),(-0.36,-1.53),(-0.31,-0.83),(-0.30,-1.65),(-0.29,-0.99),(-0.28,-1.05),(-0.28,-1.11),(-0.28,-1.22),(-0.27,-0.56),(-0.27,-1.55),(-0.24,-1.56),(-0.21,-2.17),(-0.19,-0.84),(-0.19,-1.29),(-0.16,-0.85),(-0.15,-0.88),(-0.15,-0.58),(-0.14,-1.19),(-0.12,-0.96),(-0.10,-1.05),(-0.10,-1.53),(-0.09,-1.12),(-0.08,-1.77),(-0.08,-1.23),(-0.06,-0.86),(-0.05,-2.65),(-0.04,-0.80),(-0.02,-2.10),(0.00,-1.88),(0.02,-1.02),(0.07,-1.13),(0.08,-1.47),(-0.12,-0.52),(-0.04,-0.64),(0.03,-0.54),(0.08,-0.59),(-0.14,-0.28),(-0.10,-0.32),(-0.20,-0.24),(-0.28,-0.34),(-0.44,-0.14),(-0.58,-0.37),(0.03,-0.14),(0.0,-0.29),(-0.47,-0.09),(-0.56,-0.09),(-0.64,-0.29),(-0.52,-0.14),(-0.20,-0.04),(-0.11,-0.09),(-0.04,-0.12),(0.09,-0.18),(0.05,-0.34),(-0.18,-0.19),(-0.25,-0.29),(-0.09,-0.52),(0.08,-1.04)]

right_se = [(2.86,-1.25),(2.45,-0.61),(2.42,-0.83),(2.47,-0.82),(2.33,-0.76),(2.16,-0.86),(1.94,-0.67),(1.89,-0.84),(1.92,-1.38),(2.05,-1.40),(2.02,-2.25),(1.82,-1.08),(1.73,-1.03),(1.73,-0.88),(1.75,-1.66),(1.68,-1.32),(1.64,-1.10),(1.64,-1.19),(1.60,-0.74),(1.60,-1.47),(1.57,-0.96),(1.61,-0.39),(1.56,-0.47),(1.54,-0.52),(1.51,-0.38),(1.51,-1.66),(1.48,-2.28),(1.43,-1.11),(1.42,-0.96),(1.43,-1.38),(1.39,-1.75),(1.39,-0.78),(1.37,-0.66),(1.38,-0.59),(1.36,-0.36),(1.34,-0.53),(1.45,-0.53),(1.28,-1.05),(1.26,-0.53),(1.24,-1.48),(1.20,-0.74),(1.16,-0.90),(1.15,-1.27),(1.14,-0.69),(1.14,-0.41),(1.16,-0.35),(1.13,-0.14),(1.10,-1.08),(1.05,-1.95),(1.05,-0.56),(1.03,-0.72),(1.03,-0.95),(1.00,-0.88),(0.98,-0.64),(0.95,-1.51),(0.95,-0.94),(0.92,-1.39),(0.90,-0.65),(0.88,-2.74),(0.86,-1.00),(0.84,-1.42),(0.85,-1.22),(0.84,-0.94),(0.81,-0.75),(0.79,-1.07),(0.77,-1.26),(0.76,-1.70),(0.81,-1.64),(0.73,-2.96),(0.71,-2.16),(0.72,-0.98),(0.68,-1.08),(0.65,-1.39),(0.65,-1.47),(0.63,-1.55),(0.58,-1.61),(0.61,-2.12),(0.60,-2.20),(0.54,-2.16),(0.55,-2.59),(0.45,-2.48),(0.44,-1.93),(0.51,-1.80),(0.50,-1.50),(0.46,-1.25),(0.46,-1.05),(0.50,-0.97),(0.41,-1.31),(0.38,-0.98),(0.36,-1.25),(0.33,-1.44),(0.32,-2.08),(0.33,-1.50),(0.25,-1.71),(0.23,-1.55),(0.23,-2.96),(0.23,-1.26),(0.21,-1.19),(0.19,-1.12),(0.24,-1.11),(0.14,-1.11),(0.12,-1.02),(0.28,-0.98),(0.30,-1.05),(0.34,-1.21),(0.32,-1.17),(0.35,-0.94),(0.30,-0.78),(0.38,-0.74),(0.38,-0.59),(0.34,-0.65),(0.26,-0.60),(0.21,-0.59),(0.15,-0.68),(0.16,-0.77),(0.19,-0.79),(0.23,-0.78),(0.01,-0.67),(0.0,-0.62),(0.05,-0.58),(-0.09,-0.64),(-0.09,-0.92),(0.47,-0.82),(0.53,-0.79),(0.60,-0.72),(0.62,-0.59),(0.58,-0.54),(0.56,-0.63),(0.44,-0.67),(0.45,-0.52),(0.43,-0.44),(0.39,-0.47),(0.34,-0.44),(0.30,-0.39),(0.26,-0.14),(0.36,-0.12),(0.40,-0.14),(0.46,-0.14),(0.50,-0.12),(0.60,-0.30),(0.62,-0.37),(0.63,-0.14),(0.66,-0.24),(0.70,-0.37),(0.76,-0.34),(0.77,-0.24),(0.88,-0.19),(0.91,-0.23),(0.94,-0.25),(1.01,-0.07),(1.07,-0.24),(1.10,-0.19),(1.21,-0.09),(1.24,-0.18),(1.27,-0.04),(1.61,-0.09),(0.80,-0.57),(0.85,-0.62),(0.75,-0.64),(0.67,-0.67),(0.52,-0.44),(0.49,-0.39),(0.48,-0.28),(0.44,-0.24),(0.40,-0.29),(0.38,-0.32),(0.34,-0.24),(0.26,-0.29),(0.24,-0.34),(0.21,-0.43),(0.17,-0.34),(0.13,-0.26),(0.17,-0.17),(0.06,-0.27),(0.03,-0.34),(-0.09,-0.25),(-0.11,-0.39),(-0.08,-0.49)]

axis_ticks = [-4, -3, -2, -1, 0, 1, 2, 3, 4]

# ---------------- schematic geometry (diagram units = pixels of the sketch) --------
tetra_x = [45.7, 516.8, 293.6, 170.7]
tetra_y = [55.4, 180.4, 303.6, 525.7]
solid_edges = [(0, 1), (0, 3), (3, 1)]
dashed_edges = [(0, 2), (2, 1), (2, 3)]

dist_origin = (959.0, 462.6)
dist_y_top = 161.0
dist_x_end = 1312.0
spike_x = 1154.0
spike_top = 285.0

TS = "\u2009"   # thin space
HS = "\u200a"   # hair space
title_text = ("Distribution of" + TS + " |" + HS + "|" + "<i>X</i>" + TS + "|" + HS + "|"
              + HS + "<sup>2</sup>" + HS + "/" + "<i>D</i>" + " is:")
xlabel_text = "|" + HS + "<i>X</i>" + HS + "|" + HS + "|" + "<sup>2</sup>" + "/" + HS + "<i>D</i>"
spike_label = "<i>c</i><sup>2</sup>"


def unzip(*groups):
    xs = [p[0] for g in groups for p in g]
    ys = [p[1] for g in groups for p in g]
    return xs, ys


def tri(tip_x, tip_y, ux, uy, length, width):
    # triangle polygon with tip at (tip_x, tip_y) pointing along (ux, uy)
    bx, by = tip_x - ux * length, tip_y - uy * length
    px, py = -uy, ux
    xs = [tip_x, bx + px * width / 2, bx - px * width / 2, tip_x]
    ys = [tip_y, by + py * width / 2, by - py * width / 2, tip_y]
    return xs, ys


fig = go.Figure()

DOT = "rgb(0,36,255)"
lx, ly = unzip(left_nw, left_ne, left_sw, left_se)
rx, ry = unzip(right_nw, right_ne, right_sw, right_se)
fig.add_trace(go.Scatter(x=lx, y=ly, mode="markers", xaxis="x", yaxis="y",
                         marker=dict(size=4.0, color=DOT, line=dict(width=0)),
                         hoverinfo="skip", showlegend=False))
fig.add_trace(go.Scatter(x=rx, y=ry, mode="markers", xaxis="x2", yaxis="y2",
                         marker=dict(size=4.0, color=DOT, line=dict(width=0)),
                         hoverinfo="skip", showlegend=False))
# empty trace so the right-hand tick column of the right panel gets drawn
fig.add_trace(go.Scatter(x=[], y=[], mode="markers", xaxis="x2", yaxis="y4",
                         hoverinfo="skip", showlegend=False))

# ---- tetrahedron sketch ----
for a, b in dashed_edges:
    fig.add_trace(go.Scatter(x=[tetra_x[a], tetra_x[b]], y=[tetra_y[a], tetra_y[b]],
                             mode="lines", xaxis="x3", yaxis="y3",
                             line=dict(color="black", width=4.2, dash="11px,26px"),
                             hoverinfo="skip", showlegend=False))
for a, b in solid_edges:
    fig.add_trace(go.Scatter(x=[tetra_x[a], tetra_x[b]], y=[tetra_y[a], tetra_y[b]],
                             mode="lines", xaxis="x3", yaxis="y3",
                             line=dict(color="black", width=4.2),
                             hoverinfo="skip", showlegend=False))
fig.add_trace(go.Scatter(x=tetra_x, y=tetra_y, mode="markers", xaxis="x3", yaxis="y3",
                         marker=dict(size=33, color="black", line=dict(width=0)),
                         hoverinfo="skip", showlegend=False))

# ---- distribution sketch ----
ox, oy = dist_origin
fig.add_trace(go.Scatter(x=[ox, ox, dist_x_end - 10], y=[dist_y_top + 10, oy, oy],
                         mode="lines", xaxis="x3", yaxis="y3",
                         line=dict(color="black", width=1.3),
                         hoverinfo="skip", showlegend=False))
for (tx, ty, ux, uy) in [(ox, dist_y_top, 0, -1), (dist_x_end, oy, 1, 0)]:
    xs, ys = tri(tx, ty, ux, uy, 13, 7)
    fig.add_trace(go.Scatter(x=xs, y=ys, mode="lines", fill="toself",
                             fillcolor="black", xaxis="x3", yaxis="y3",
                             line=dict(color="black", width=1),
                             hoverinfo="skip", showlegend=False))
head_len, head_w = 33, 21
fig.add_trace(go.Scatter(x=[spike_x, spike_x], y=[oy + 2, spike_top + head_len],
                         mode="lines", xaxis="x3", yaxis="y3",
                         line=dict(color="black", width=4.5),
                         hoverinfo="skip", showlegend=False))
xs, ys = tri(spike_x, spike_top + 1.5, 0, -1, head_len, head_w)
fig.add_trace(go.Scatter(x=xs, y=ys, mode="lines", fill="toself",
                         fillcolor="white", xaxis="x3", yaxis="y3",
                         line=dict(color="black", width=3.2),
                         hoverinfo="skip", showlegend=False))

SERIF = "Liberation Serif, DejaVu Serif, serif"
annotations = [
    dict(text=title_text, x=1150, y=62, xref="x3", yref="y3", showarrow=False,
         xanchor="center", yanchor="middle", font=dict(family=SERIF, size=88, color="black")),
    dict(text=xlabel_text, x=1333, y=465, xref="x3", yref="y3", showarrow=False,
         xanchor="left", yanchor="middle", font=dict(family=SERIF, size=60, color="black")),
    dict(text=spike_label, x=1146, y=502, xref="x3", yref="y3", showarrow=False,
         xanchor="center", yanchor="middle", font=dict(family=SERIF, size=56, color="black")),
]

SANS = "Liberation Sans, Arial, Helvetica, sans-serif"
def frame_axis(**kw):
    d = dict(showline=True, linecolor="black", linewidth=1.3, ticks="inside",
             ticklen=7, tickwidth=1, tickcolor="black", showgrid=False, zeroline=False,
             tickmode="array", tickvals=axis_ticks,
             ticktext=[("\u2212%d" % -t) if t < 0 else str(t) for t in axis_ticks],
             tickfont=dict(family=SANS, size=15, color="black"), automargin=False, fixedrange=True)
    d.update(kw)
    return d

ydom = [1 - 1123.3 / H, 1 - 591.5 / H]
fig.update_layout(
    width=W, height=H, margin=dict(l=0, r=0, t=0, b=0),
    paper_bgcolor="white", plot_bgcolor="rgba(0,0,0,0)", template="none",
    showlegend=False,
    xaxis=frame_axis(domain=[46.7 / W, 722.7 / W], range=[-4, 4], mirror="ticks", anchor="y",
                     ticklabelstandoff=4),
    yaxis=frame_axis(domain=ydom, range=[-4, 4], mirror="ticks", anchor="x"),
    xaxis2=frame_axis(domain=[983.3 / W, 1.0], range=[-4, -4 + (W - 983.3) / 84.45], mirror="ticks",
                      anchor="y2", ticklabelstandoff=4),
    yaxis2=frame_axis(domain=ydom, range=[-4, 4], mirror=False, anchor="x2"),
    yaxis4=dict(overlaying="y2", side="right", anchor="x2", range=[-4, 4], showline=False,
                showgrid=False, zeroline=False, ticks="inside", ticklen=4, tickwidth=1,
                tickcolor="black", tickmode="array", tickvals=axis_ticks,
                showticklabels=False, fixedrange=True),
    xaxis3=dict(domain=[0, 1], range=[0, W], visible=False, anchor="y3", fixedrange=True),
    yaxis3=dict(domain=[1 - 571 / H, 1], range=[571, 0], visible=False, anchor="x3", fixedrange=True),
    annotations=annotations,
)

fig.write_html("out.html", config={"displayModeBar": False},
               post_script="document.body.style.margin='0';document.body.style.overflow='hidden';")
